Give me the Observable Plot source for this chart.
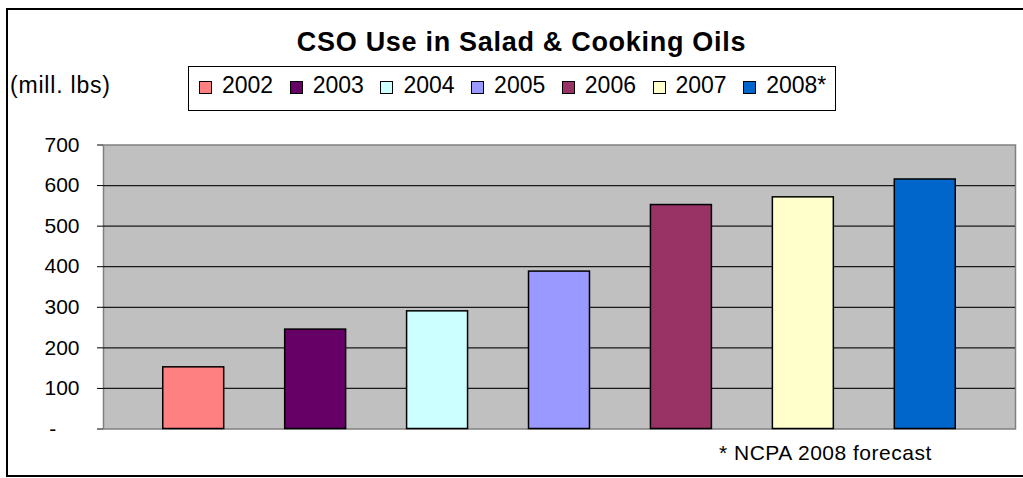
<!DOCTYPE html>
<html>
<head>
<meta charset="utf-8">
<script src="https://cdn.jsdelivr.net/npm/d3@7"></script>
<script src="https://cdn.jsdelivr.net/npm/@observablehq/plot@0.6"></script>
<style>
  html, body { margin: 0; padding: 0; background: #fff; overflow: hidden; }
  body { width: 1023px; height: 478px; position: relative; font-family: "Liberation Sans", Arial, sans-serif; color: #000; }
  #border { position: absolute; left: 6px; top: 8px; width: 1100px; height: 469px; box-sizing: border-box; border: 2px solid #000; }
  #title { position: absolute; left: 0; width: 1043px; text-align: center; top: 29px; font-size: 27px; line-height: 27px; font-weight: bold; letter-spacing: 0.7px; white-space: nowrap; }
  #unit { position: absolute; left: 10px; top: 74px; font-size: 23px; line-height: 23px; letter-spacing: 0.8px; white-space: nowrap; }
  #legend { position: absolute; left: 188px; top: 66px; width: 648px; height: 45px; box-sizing: border-box; border: 1px solid #000; background: #fff; }
  .item { position: absolute; top: 0; height: 100%; }
  .sw { position: absolute; top: 14px; width: 13px; height: 13px; box-sizing: border-box; border: 1px solid #000; }
  .lab { position: absolute; left: 23px; top: 7px; font-size: 23px; line-height: 23px; white-space: nowrap; }
  #chart { position: absolute; left: 0; top: 130px; }
  #note { position: absolute; left: 719px; top: 442px; font-size: 21px; line-height: 21px; letter-spacing: 0.5px; white-space: nowrap; }
</style>
</head>
<body>
<div id="border"></div>
<div id="title">CSO Use in Salad &amp; Cooking Oils</div>
<div id="unit">(mill. lbs)</div>
<div id="legend"></div>
<div id="chart"></div>
<div id="note">* NCPA 2008 forecast</div>
<script>
const years = ["2002", "2003", "2004", "2005", "2006", "2007", "2008*"];
const values = [152, 245, 290, 388, 552, 571, 615];
const colors = ["#FF8080", "#660066", "#CCFFFF", "#9999FF", "#993366", "#FFFFCC", "#0066CC"];
const yTicks = [0, 100, 200, 300, 400, 500, 600, 700];

const data = years.map((y, i) => ({ year: y, value: values[i] }));

// legend
const legend = document.getElementById("legend");
years.forEach((y, i) => {
  const it = document.createElement("div");
  it.className = "item";
  it.style.left = (10 + i * 90.7) + "px";
  const sw = document.createElement("div");
  sw.className = "sw";
  sw.style.background = colors[i];
  const lab = document.createElement("div");
  lab.className = "lab";
  lab.textContent = y;
  it.appendChild(sw);
  it.appendChild(lab);
  legend.appendChild(it);
});

const chart = Plot.plot({
  width: 1023,
  height: 310,
  marginLeft: 103,
  marginRight: 8,
  marginTop: 14.5,
  marginBottom: 11.5,
  style: { fontFamily: "'Liberation Sans', Arial, sans-serif", fontSize: "21px", color: "#000", background: "transparent", overflow: "visible" },
  x: { domain: years, paddingInner: 0.5, paddingOuter: 0.49, round: false, axis: null },
  y: { domain: [0, 700], axis: null },
  color: { domain: years, range: colors },
  marks: [
    Plot.frame({ fill: "#C0C0C0", stroke: "#808080", strokeWidth: 1.5 }),
    Plot.ruleY(yTicks.filter(d => d > 0 && d < 700), { stroke: "#1a1a1a", strokeWidth: 1.3 }),
    Plot.barY(data, { x: "year", y: "value", fill: "year", stroke: "#000", strokeWidth: 1.5 }),
    Plot.axisY(yTicks, {
      tickSize: 6,
      tickPadding: 18,
      tickFormat: d => d === 0 ? "-\u00a0\u00a0\u00a0\u00a0" : String(d),
      label: null,
      fontSize: 21,
      stroke: "#000"
    })
  ]
});
document.getElementById("chart").appendChild(chart);
</script>
</body>
</html>
